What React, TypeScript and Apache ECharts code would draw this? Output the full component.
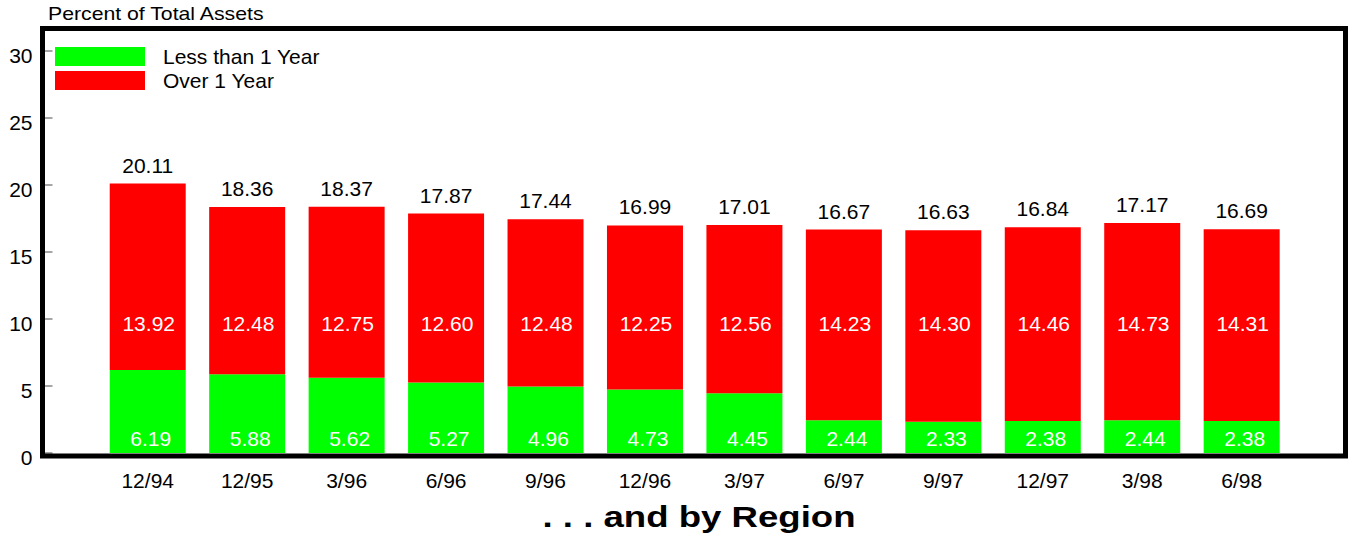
import React, { useEffect, useRef } from "react";
import * as echarts from "echarts";

// Quarter-end reporting dates
const categories = ["12/94", "12/95", "3/96", "6/96", "9/96", "12/96", "3/97", "6/97", "9/97", "12/97", "3/98", "6/98"];
// Percent of total assets, by remaining maturity
const lessThan1Year = [6.19, 5.88, 5.62, 5.27, 4.96, 4.73, 4.45, 2.44, 2.33, 2.38, 2.44, 2.38];
const over1Year = [13.92, 12.48, 12.75, 12.6, 12.48, 12.25, 12.56, 14.23, 14.3, 14.46, 14.73, 14.31];
// Published totals printed above each bar
const totals = [20.11, 18.36, 18.37, 17.87, 17.44, 16.99, 17.01, 16.67, 16.63, 16.84, 17.17, 16.69];
const yTicks = [0, 5, 10, 15, 20, 25, 30];

const FONT = "'Liberation Sans', Arial, Helvetica, sans-serif";
// The "over 1 year" figures all sit on one common row inside the red bars
const OVER_LABEL_ROW = 9.7;

export default function App() {
  const ref = useRef<HTMLDivElement>(null);

  useEffect(() => {
    document.body.style.margin = "0";
    if (!ref.current) return;
    const chart = echarts.init(ref.current, undefined, { renderer: "svg" });

    chart.setOption({
      animation: false,
      backgroundColor: "#ffffff",
      textStyle: { fontFamily: FONT },
      grid: { left: 98, right: 59.6, top: 51, bottom: 87, containLabel: false },
      legend: {
        orient: "vertical",
        left: 50,
        top: 41,
        itemWidth: 90,
        itemHeight: 19,
        itemGap: 3,
        icon: "rect",
        data: ["Less than 1 Year", "Over 1 Year"],
        textStyle: { fontSize: 21, color: "#000", fontFamily: FONT, padding: [0, 0, 0, 13] },
      },
      xAxis: {
        type: "category",
        data: categories,
        axisLine: { show: false },
        axisTick: { show: false },
        axisLabel: { color: "#000", fontSize: 21, margin: 17, fontFamily: FONT },
      },
      yAxis: {
        type: "value",
        min: yTicks[0],
        max: yTicks[yTicks.length - 1],
        interval: 5,
        offset: 55.5,
        splitLine: { show: false },
        axisLine: { show: false },
        axisTick: { show: true, inside: true, length: 10, lineStyle: { color: "#888", width: 1.5 } },
        // labels sit a little below their tick marks
        axisLabel: { color: "#000", fontSize: 21, margin: 10, verticalAlign: "top", lineHeight: 8, fontFamily: FONT },
      },
      series: [
        {
          name: "Less than 1 Year",
          type: "bar",
          stack: "assets",
          barWidth: 76,
          data: lessThan1Year,
          itemStyle: { color: "#00ff00" },
          label: {
            show: true,
            position: "insideBottom",
            distance: 4,
            offset: [3, 0],
            color: "#fff",
            fontSize: 21,
            fontFamily: FONT,
            formatter: (p: any) => lessThan1Year[p.dataIndex].toFixed(2),
          },
        },
        {
          name: "Over 1 Year",
          type: "bar",
          stack: "assets",
          barWidth: 76,
          data: over1Year,
          itemStyle: { color: "#ff0000" },
          label: {
            show: true,
            position: "top",
            distance: 8,
            color: "#000",
            fontSize: 21,
            fontFamily: FONT,
            formatter: (p: any) => totals[p.dataIndex].toFixed(2),
          },
        },
        {
          name: "overLabels",
          type: "scatter",
          symbolSize: 0,
          silent: true,
          itemStyle: { opacity: 1 },
          data: over1Year.map((_, i) => [i, OVER_LABEL_ROW]),
          label: {
            show: true,
            position: "inside",
            offset: [1, 0],
            color: "#ffffff",
            opacity: 1,
            fontSize: 21,
            fontFamily: FONT,
            formatter: (p: any) => over1Year[p.dataIndex].toFixed(2),
          },
          z: 5,
        },
      ],
      graphic: [
        {
          type: "rect",
          shape: { x: 42.5, y: 28.5, width: 1303, height: 427.5 },
          style: { fill: "none", stroke: "#000", lineWidth: 5 },
          z: 100,
        },
        {
          type: "text",
          x: 48,
          y: 14,
          scaleX: 1.18,
          style: {
            text: "Percent of Total Assets",
            fontSize: 18,
            fontFamily: FONT,
            fill: "#000",
            textAlign: "left",
            textVerticalAlign: "middle",
          },
        },
        {
          type: "text",
          x: 699,
          y: 517,
          scaleX: 1.22,
          style: {
            text: ". . . and by Region",
            fontSize: 30,
            fontWeight: "bold",
            fontFamily: FONT,
            fill: "#000",
            textAlign: "center",
            textVerticalAlign: "middle",
          },
        },
      ],
    });

    return () => chart.dispose();
  }, []);

  return <div ref={ref} style={{ width: 1351, height: 540 }} />;
}
